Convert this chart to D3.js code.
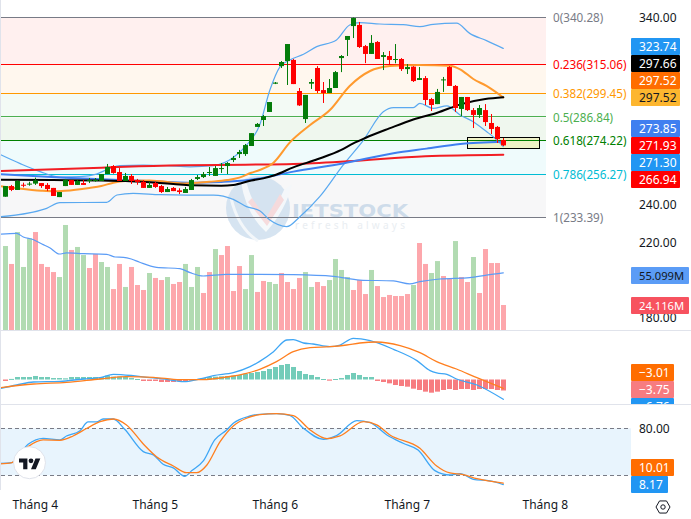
<!DOCTYPE html>
<html lang="vi">
<head>
<meta charset="utf-8">
<title>Biểu đồ giá</title>
<script src="https://cdn.jsdelivr.net/npm/d3@7/dist/d3.min.js"></script>
<style>
  html, body { margin: 0; padding: 0; background: #fff; }
  svg { display: block; }
  text { font-family: "Noto Sans", sans-serif; }
</style>
</head>
<body>
<svg id="chart" width="691" height="519"></svg>
<script>
// Daily candles
const opens = [244.5,250.2,248.1,250.9,251.1,251.5,251.8,250.8,249.2,244.3,250.2,253.4,250.8,251.8,252.9,252.9,252.9,256.6,260.9,257.7,252.9,255.6,253.4,252.5,249.2,251.8,250.2,247.0,249.2,247.9,246.5,248.1,254.0,255.0,257.2,255.6,259.3,260.9,264.1,267.3,267.3,271.6,281.8,285.5,289.8,304.9,314.3,317.0,317.6,301.0,286.0,304.9,313.3,301.5,299.9,302.6,318.6,328.3,335.7,336.3,325.0,320.8,327.2,319.2,319.7,317.7,318.1,312.7,314.0,306.9,307.9,296.7,294.0,306.7,313.8,303.7,291.4,297.8,290.8,288.2,290.8,283.9,281.8,274.8];
const highs = [250.2,250.8,253.4,252.0,252.5,254.7,251.8,251.8,249.2,247.0,254.0,253.4,253.4,253.4,254.5,254.5,256.6,262.0,261.4,259.8,257.2,256.6,254.0,253.4,252.4,252.5,250.8,249.7,249.7,249.0,249.7,254.0,256.1,257.7,260.4,260.9,262.5,263.0,266.3,269.5,272.7,278.5,283.9,288.2,295.1,305.8,317.0,326.1,318.1,302.6,298.9,307.4,314.3,305.8,307.4,311.7,320.2,330.4,340.28,337.9,325.6,330.9,327.7,321.8,322.4,326.1,318.6,315.4,314.3,313.8,309.0,297.3,302.1,308.5,314.3,304.2,297.8,297.8,291.9,293.5,294.0,288.7,282.3,275.9];
const lows = [244.5,247.5,248.1,249.5,250.4,250.8,249.2,247.5,244.9,244.3,250.2,250.8,250.8,250.8,251.8,252.5,252.9,256.6,256.8,252.9,252.9,251.3,250.9,249.2,249.2,249.2,246.5,247.0,247.5,245.9,246.5,248.1,253.4,254.5,255.6,255.6,257.2,256.6,263.0,265.2,266.3,271.6,281.8,282.3,289.8,304.7,313.3,304.2,304.7,293.0,283.9,302.1,299.9,294.6,299.9,302.6,311.1,319.7,329.3,324.0,315.9,320.8,318.1,312.2,314.9,315.8,311.7,310.1,305.8,306.9,293.5,290.3,294.0,300.5,303.7,289.8,287.6,290.3,281.2,286.6,282.3,278.0,273.2,271.6];
const closes = [250.2,248.1,252.9,250.6,251.5,253.2,250.2,248.6,244.9,247.0,253.4,250.8,252.9,250.8,253.4,253.4,256.6,260.4,257.2,252.9,255.6,252.9,252.4,249.2,250.8,249.7,247.0,248.6,247.5,247.0,248.6,253.4,255.0,256.6,257.7,259.8,259.8,262.5,265.2,268.4,272.1,278.5,283.4,287.6,295.1,305.5,316.5,326.1,304.7,293.3,298.9,305.8,301.0,299.9,302.6,311.1,319.7,330.4,340.0,324.5,320.8,326.7,318.1,320.2,317.6,318.1,312.7,313.8,306.3,307.9,296.2,293.5,300.5,307.2,303.7,291.9,297.8,290.8,288.2,291.9,284.4,280.7,275.3,271.93];

// Moving averages and Bollinger bands, read at the listed bar positions
const blackBars = [-0.9,8,16,20,24,28,31,36,38,41,43,45,48,52,56,58,60,64,68,72,76,80,83];
const blackVals = [253.6,253.4,253.2,252.9,252.2,251.3,250.6,250.4,250.8,253.2,254.3,256.1,260.2,264.5,269.5,273.0,275.9,281.0,285.8,289.4,294.0,296.7,297.66];
const basisBars = [-0.9,2,6,8,10,14,16,18,20,24,30,34,37,39,41,42.4,44.7,47.4,50.8,54.1,57.4,60.8,64.1,66.3,69,74.1,75.8,78,80.2,83];
const basisVals = [250.2,249.0,247.7,247.4,247.7,249.2,250.2,252.0,252.9,253.2,251.6,252.5,253.4,254.7,257.3,258.8,262.7,273.4,282.8,290.8,303.7,311.7,314.3,314.7,314.9,314.5,312.6,307.4,303.7,297.52];
const redBars = [-0.9,16,20,30,40,48,57,70,83];
const redVals = [258.2,260.0,260.5,261.3,261.6,262.0,263.4,266.1,266.94];
const blueBars = [-0.9,10,16,22,27,31,36,38,42,48,56.3,64.7,70.2,75.8,83];
const blueVals = [256.5,254.7,253.8,253.1,252.4,252.0,252.4,252.7,254.1,257.9,262.3,267.7,270.2,272.7,273.85];
const upperBars = [-0.9,2.4,5.8,9.1,12.4,15.2,17.4,19.1,23,26.9,30.8,34.7,38,40.2,42.4,44.1,45.8,47.4,49.7,51.9,55.2,57.4,59.1,62.4,66.3,69.1,71.3,75.2,77.4,80.2,83];
const upperVals = [267.1,262.3,257.9,255.0,255.2,256.6,259.6,261.1,261.4,261.1,260.5,261.1,265.4,272.1,282.8,301.5,314.0,317.6,320.6,324.7,328.3,336.3,337.5,336.8,336.5,335.4,336.6,337.3,331.8,327.9,323.74];
const lowerBars = [-0.9,6.9,9.1,16.9,18.6,21.3,25.8,30.2,34.7,38,40.2,42.4,44.1,46.9,49.1,52.4,56.3,59.7,63,64.7,68,69.1,71.3,73.6,75.8,78,80.2,81.3,83];
const lowerVals = [233.8,238.3,241.3,241.5,245.4,246.3,245.6,245.4,245.4,243.1,239.2,237.0,232.0,228.5,233.8,244.5,261.4,274.8,289.9,292.1,292.1,294.4,291.7,293.0,288.2,284.6,279.3,276.6,271.30];

// Fibonacci retracement
const fibRatios = ["0","0.236","0.382","0.5","0.618","0.786","1"];
const fibPrices = [340.28,315.06,299.45,286.84,274.22,256.27,233.39];
const fibColors = ["#787b86","#ff0000","#ff9800","#4caf50","#008000","#00bcd4","#787b86"];
const fibFills = ["#fff0ef","#fff7ee","#f3faf5","#eff7ee","#effbfc","#f7f7f8"];

// Volume, millions of shares
const volumes = [81.0,63.7,94.5,60.8,88.4,94.5,63.7,60.8,55.9,51.1,101.3,77.2,80.1,72.3,59.8,73.3,65.6,60.8,39.5,63.7,41.5,60.8,43.4,38.6,55.0,50.2,48.2,51.1,44.4,46.3,63.7,41.5,60.8,35.7,55.9,78.1,72.3,81.0,37.6,61.7,39.5,72.3,36.7,47.3,46.3,44.4,55.0,46.3,39.5,50.2,55.9,41.5,46.3,42.4,48.2,68.5,57.9,51.1,38.6,48.2,34.7,57.9,42.4,31.8,33.8,32.8,32.8,34.7,43.4,83.9,63.7,55.0,66.5,52.1,49.2,85.8,51.1,46.3,70.4,35.7,78.1,64.6,64.6,24.116];
const volumeSides = "GRGGGRRRRGGRGGRRGGRRGRRRGRRGRRGGGRRGRRRRGGRRGGRRRRGGRRGGGGRRRGRRRRRRGRRGGRRGRRGRRR";
const volAvgBars = [-0.9,1.9,3,4.7,6.1,7.4,9,10.2,13,16.9,18.3,19.7,21,22.4,25.2,29.1,30.8,33,36.9,42.4,48,54.7,59.1,64.7,67.4,69.1,72.4,77.4,80.2,83];
const volAvgVals = [92.3,93.2,89.7,87.1,82.9,79.4,73.3,74.3,73.7,73.0,70.4,70.1,68.5,65.3,60.4,59.2,55.3,52.1,53.7,53.7,53.4,51.8,48.2,47.3,44.4,46.6,49.2,50.5,53.0,55.099];

// MACD
const macdHist = [-0.5,0.2,0.85,0.85,0.85,1.2,0.85,0.85,0.5,0.5,0.4,0.85,0.85,0.85,0.85,0.85,0.85,1.3,0.97,0.97,0.85,0.5,0.17,-0.5,-0.5,-0.5,-0.85,-0.85,-0.85,-0.63,-0.63,-0.4,0.17,0.5,0.85,0.97,1.08,1.2,1.3,1.54,1.88,2.22,2.56,2.9,3.58,4.27,4.95,5.29,4.27,2.9,1.88,1.54,0.85,0.17,-0.4,0.17,0.5,1.54,2.22,1.54,0.85,0.85,-0.5,-0.85,-1.31,-1.88,-2.22,-2.45,-3.13,-3.58,-4.15,-4.5,-4.15,-3.58,-3.24,-3.58,-3.24,-3.24,-3.58,-3.24,-3.24,-3.24,-3.58,-3.75];
const macdBars = [-0.9,1.9,4.7,9.1,13,15.8,18,21.3,24.1,26.9,29.7,32.4,34.7,38,40.8,42.4,44.7,46.9,48,49.7,51.3,54.1,55.8,58,60.8,64.7,68.6,70.8,71.9,73.6,75.2,78.6,83];
const macdVals = [-3.13,-1.88,-0.85,-0.63,0.17,0.63,1.76,1.31,0.63,0.06,-0.74,0.17,1.31,2.33,4.38,6.2,9.5,13.48,13.6,12.46,12.12,11.2,11.77,14.05,13.25,10.3,6.43,3.01,2.22,1.76,0.17,-1.88,-6.76];
const signalBars = [-0.9,4.7,10.2,15.8,20.2,24.7,29.1,32.4,38,40.2,42.4,45.2,48,50.8,54.1,56.9,59.1,61.9,65.8,69.1,71.9,75.2,78.6,83];
const signalVals = [-2.79,-1.54,-0.97,0.17,0.97,0.74,-0.06,-0.06,1.19,2.1,3.47,6.09,9.5,10.86,11.2,11.77,12.46,12.8,11.55,9.16,6.09,3.58,0.63,-3.01];

// Stochastic RSI
const stochKBars = [-0.9,1.1,3.8,6.3,9.1,10.2,12.4,13.8,15.2,16.3,18,19.9,23,24.7,26.3,28,29.9,31.1,33,34.9,36.9,38,40.8,42.4,45.2,47.4,49.7,53,55.2,58.6,60.8,63.6,66.3,68.8,71.6,74.1,75.8,78,80.8,83];
const stochKVals = [35.3,36.2,59.6,67.2,65.1,70.2,76.6,88.1,88.1,91.9,91.9,78.7,50.2,46.0,34.0,29.4,18.7,26.0,38.3,65.1,77.9,86.4,95.7,97.9,98.7,96.6,80.0,66.0,70.6,89.8,87.2,71.5,60.9,52.3,26.0,20.4,22.1,14.9,12.8,8.17];
const stochDBars = [-0.9,1.1,3.8,6.3,9.1,11.3,13.6,15.8,18,20.2,23,25.2,28,30.2,31.9,33.6,35.8,38,40.2,42.4,45.2,48,50.8,53.6,55.8,59.7,61.9,64.1,69.1,71.9,74.1,76.3,78.6,83];
const stochDVals = [34.5,36.2,56.6,65.1,64.7,70.2,80.0,88.5,91.9,84.3,60.0,43.8,31.9,23.4,23.4,33.2,63.0,83.0,92.8,97.4,98.7,96.2,77.9,66.8,70.2,88.5,84.3,71.5,54.5,31.9,23.0,20.9,15.7,10.01];

// Axis labels
const priceTicks = [180,220,240,340];
const stochTicks = [80];
const monthLabels = ["Tháng 4","Tháng 5","Tháng 6","Tháng 7","Tháng 8"];
const monthBars = [5,25,45,67,90];

// Last-value tags on the right scale
const priceTags = ["323.74","297.66","297.52","297.52","273.85","271.93","271.30","266.94"];
const priceTagFills = ["#2196f3","#000000","#ff6d00","#fdb62f","#3f7ff0","#ff0000","#2196f3","#ff0000"];
const priceTagInks = ["#fff","#fff","#fff","#131722","#fff","#fff","#fff","#fff"];
const volumeTags = ["55.099M","24.116M"];
const macdTags = ["−3.01","−3.75","−6.76"];
const stochTags = ["10.01","8.17"];

const svg = d3.select("#chart");
const width = 691, chartRight = 631, fibRight = 546;

const x = d3.scaleLinear().domain([0, 83]).range([5.3, 503.3]);
const yPrice = d3.scaleLinear().domain([340.28, 233.39]).range([17.5, 217.5]);
const yVol = d3.scaleLinear().domain([0, 96.46]).range([330, 230]);
const yMacd = d3.scaleLinear().domain([0, 10]).range([379.5, 350.2]);
const yStoch = d3.scaleLinear().domain([80, 20]).range([428.3, 475.3]);
const bodyW = 5;
const barLeft = i => Math.round(x(i)) - 2;
const barMid = i => Math.round(x(i)) + 0.5;

const defs = svg.append("defs");
defs.append("clipPath").attr("id", "pricePane").append("rect").attr("x", 1).attr("y", 0).attr("width", chartRight).attr("height", 330);
defs.append("clipPath").attr("id", "macdPane").append("rect").attr("x", 1).attr("y", 331).attr("width", width).attr("height", 73);
defs.append("clipPath").attr("id", "tagPane").append("rect").attr("x", 0).attr("y", 331).attr("width", width).attr("height", 73);

const seriesLine = (scale, curve = d3.curveMonotoneX) => d3.line()
  .x(d => x(d[0])).y(d => scale(d[1])).curve(curve);
const pairs = (bars, vals) => bars.map((b, i) => [b, vals[i]]);

function drawLine(g, bars, vals, scale, color, w) {
  g.append("path").datum(pairs(bars, vals)).attr("d", seriesLine(scale))
    .attr("fill", "none").attr("stroke", color).attr("stroke-width", w)
    .attr("stroke-linejoin", "round").attr("stroke-linecap", "round");
}

// --- price pane ---
const price = svg.append("g").attr("clip-path", "url(#pricePane)");

fibFills.forEach((fill, i) => {
  price.append("rect")
    .attr("x", 1).attr("width", fibRight - 1)
    .attr("y", yPrice(fibPrices[i])).attr("height", yPrice(fibPrices[i + 1]) - yPrice(fibPrices[i]))
    .attr("fill", fill);
});

// Vietstock watermark
const mark = price.append("g").attr("opacity", 0.85);
mark.append("circle").attr("cx", 258).attr("cy", 208).attr("r", 32).attr("fill", "#d0e0ef");
mark.append("path").attr("d", "M231 198 Q238 228 258 241").attr("fill", "none").attr("stroke", "#f2f6fa").attr("stroke-width", 3);
mark.append("path").attr("d", "M241 182 Q246 214 266 232 Q286 210 292 184 L284 190 Q276 208 266 220 Q252 204 247 184 Z").attr("fill", "#f4f8fb");
mark.append("path").attr("d", "M252 198 L266 218 L280 194 L284 200 L267 226 L248 202 Z").attr("fill", "#f5d6d8");
mark.append("text").attr("x", 292).attr("y", 217).attr("font-size", 17).attr("font-weight", 700)
  .attr("textLength", 116).attr("lengthAdjust", "spacingAndGlyphs")
  .attr("fill", "#c7d8e8").style("font-family", "'DejaVu Sans', sans-serif").text("IETSTOCK");
mark.append("text").attr("x", 295).attr("y", 229).attr("font-size", 10)
  .attr("textLength", 110).attr("fill", "#e6ebf0").text("refresh always");

fibPrices.forEach((p, i) => {
  price.append("line").attr("x1", 1).attr("x2", fibRight)
    .attr("y1", Math.round(yPrice(p)) - 0.5).attr("y2", Math.round(yPrice(p)) - 0.5)
    .attr("stroke", fibColors[i]).attr("stroke-width", 1);
});

// Band fill between the upper and lower envelopes
const bandOutline = pairs(upperBars, upperVals).concat(pairs(lowerBars, lowerVals).reverse());
price.append("path").datum(bandOutline).attr("d", seriesLine(yPrice, d3.curveLinear) + "Z")
  .attr("fill", "#2196f3").attr("fill-opacity", 0.05);

// Highlight box around the latest close
const boxTop = 276.25, boxBottom = 270.37;
price.append("rect").attr("x", 467.5).attr("width", 72)
  .attr("y", Math.round(yPrice(boxTop)) + 0.5).attr("height", Math.round(yPrice(boxBottom) - yPrice(boxTop)))
  .attr("fill", "#eef2c6").attr("stroke", "#000").attr("stroke-width", 1);
price.append("line").attr("x1", 468).attr("x2", 539)
  .attr("y1", Math.round(yPrice(274.22)) - 0.5).attr("y2", Math.round(yPrice(274.22)) - 0.5)
  .attr("stroke", "#008000");

drawLine(price, upperBars, upperVals, yPrice, "#5aa9f0", 1.2);
drawLine(price, lowerBars, lowerVals, yPrice, "#5aa9f0", 1.2);
drawLine(price, redBars, redVals, yPrice, "#f21d23", 2);
drawLine(price, blueBars, blueVals, yPrice, "#3f7ff0", 2);
drawLine(price, basisBars, basisVals, yPrice, "#ff9a2e", 2);
drawLine(price, blackBars, blackVals, yPrice, "#000000", 2);

// Candles
const candles = price.append("g").selectAll("g").data(opens.map((o, i) => i)).join("g")
  .attr("fill", i => closes[i] >= opens[i] ? "#047c0a" : "#ff0000")
  .attr("stroke", i => closes[i] >= opens[i] ? "#047c0a" : "#ff0000");
candles.append("line").attr("stroke-width", 1)
  .attr("x1", barMid).attr("x2", barMid)
  .attr("y1", i => yPrice(highs[i])).attr("y2", i => yPrice(lows[i]));
candles.append("rect").attr("stroke", "none")
  .attr("x", barLeft).attr("width", bodyW)
  .attr("y", i => yPrice(Math.max(opens[i], closes[i])))
  .attr("height", i => Math.max(1, Math.abs(yPrice(opens[i]) - yPrice(closes[i]))));

// Volume
price.append("g").selectAll("rect").data(volumes).join("rect")
  .attr("x", (d, i) => barLeft(i)).attr("width", bodyW)
  .attr("y", d => yVol(d)).attr("height", d => yVol(0) - yVol(d))
  .attr("fill", (d, i) => volumeSides[i] === "G" ? "#b2dbb2" : "#fda7ac");
drawLine(price, volAvgBars, volAvgVals, yVol, "#5b9cf6", 1.2);

// --- MACD pane ---
const macd = svg.append("g").attr("clip-path", "url(#macdPane)");
macd.append("g").selectAll("rect").data(macdHist).join("rect")
  .attr("x", (d, i) => barLeft(i)).attr("width", bodyW)
  .attr("y", d => Math.min(yMacd(d), yMacd(0)))
  .attr("height", d => Math.max(1, Math.abs(yMacd(d) - yMacd(0))))
  .attr("fill", d => d >= 0 ? "#73ccb9" : "#f77c80");
drawLine(macd, macdBars, macdVals, yMacd, "#3ea6f5", 1.3);
drawLine(macd, signalBars, signalVals, yMacd, "#ff7f1f", 1.3);

// --- Stochastic RSI pane ---
const stoch = svg.append("g");
stoch.append("rect").attr("x", 1).attr("width", chartRight - 1)
  .attr("y", yStoch(80)).attr("height", yStoch(20) - yStoch(80)).attr("fill", "#e8f4fd");
[80, 20].forEach(level => {
  stoch.append("line").attr("x1", 1).attr("x2", chartRight)
    .attr("y1", Math.round(yStoch(level)) + 0.5).attr("y2", Math.round(yStoch(level)) + 0.5)
    .attr("stroke", "#787b86").attr("stroke-dasharray", "4 3");
});
drawLine(stoch, stochKBars, stochKVals, yStoch, "#3ea6f5", 1.3);
drawLine(stoch, stochDBars, stochDVals, yStoch, "#ff7f1f", 1.3);

// Pane separators and the left border
[330, 404].forEach(y => {
  svg.append("line").attr("x1", 0).attr("x2", width).attr("y1", y + 0.5).attr("y2", y + 0.5).attr("stroke", "#e0e3eb");
});
svg.append("line").attr("x1", 0.5).attr("x2", 0.5).attr("y1", 0).attr("y2", 490).attr("stroke", "#e0e3eb");

// Fibonacci labels
fibPrices.forEach((p, i) => {
  svg.append("text").attr("x", 553).attr("y", yPrice(p)).attr("dy", "0.35em")
    .attr("font-size", 11.7).attr("fill", fibColors[i])
    .text(`${fibRatios[i]}(${p.toFixed(2)})`);
});

// Right scale
const axisFont = 12;
const priceAxis = svg.append("g").attr("transform", "translate(639,0)")
  .call(d3.axisRight(yPrice).tickValues(priceTicks).tickSize(0).tickPadding(0).tickFormat(d3.format(".2f")));
priceAxis.select(".domain").remove();
priceAxis.selectAll("text").attr("font-size", axisFont).attr("fill", "#131722").style("font-family", null);

const stochAxis = svg.append("g").attr("transform", "translate(639,0)")
  .call(d3.axisRight(yStoch).tickValues(stochTicks).tickSize(0).tickPadding(0).tickFormat(d3.format(".2f")));
stochAxis.select(".domain").remove();
stochAxis.selectAll("text").attr("font-size", axisFont).attr("fill", "#131722").style("font-family", null);

function tag(g, label, top, w, fill, ink, size = axisFont) {
  g.append("rect").attr("x", chartRight).attr("y", top).attr("width", w).attr("height", 17).attr("rx", 1).attr("fill", fill);
  g.append("text").attr("x", 639).attr("y", top + 8.5).attr("dy", "0.36em")
    .attr("font-size", size).attr("fill", ink).text(label);
}
const tagTops = [38, 55, 72, 89, 120, 137, 154, 171];
priceTags.forEach((t, i) => tag(svg, t, tagTops[i], 49, priceTagFills[i], priceTagInks[i]));
tag(svg, volumeTags[0], 267, 58, "#5b9cf6", "#131722", 11.2);
tag(svg, volumeTags[1], 297, 58, "#f7525f", "#fff", 11.2);

const macdTagGroup = svg.append("g").attr("clip-path", "url(#tagPane)");
tag(macdTagGroup, macdTags[0], 364, 43, "#ff6d00", "#fff");
tag(macdTagGroup, macdTags[1], 381, 43, "#f77c80", "#fff");
tag(macdTagGroup, macdTags[2], 398, 43, "#2196f3", "#fff");

tag(svg, stochTags[0], 459, 43, "#ff6d00", "#fff");
tag(svg, stochTags[1], 476, 37, "#2196f3", "#fff");

// Month labels
svg.append("g").selectAll("text").data(monthLabels).join("text")
  .attr("x", (d, i) => x(monthBars[i])).attr("y", 505).attr("dy", "0.36em")
  .attr("text-anchor", "middle").attr("font-size", axisFont).attr("fill", "#131722")
  .text(d => d);

// Logo badge
const badge = svg.append("g");
badge.append("circle").attr("cx", 29.5).attr("cy", 462.7).attr("r", 16).attr("fill", "#fff").attr("stroke", "#e0e3eb").attr("stroke-width", 1);
const glyph = badge.append("g").attr("transform", "translate(19,456) scale(0.6)").attr("fill", "#131722");
glyph.append("path").attr("d", "M14 22H7V11H0V4h14v18zM28 22h-8l7.5-18h8L28 22z");
glyph.append("circle").attr("cx", 20).attr("cy", 8).attr("r", 4);

// Scale settings icon
const gear = svg.append("g").attr("transform", "translate(663,507)").attr("fill", "none").attr("stroke", "#131722");
gear.append("path").attr("d", d3.line()(d3.range(6).map(k => [7 * Math.cos(k * Math.PI / 3), 7 * Math.sin(k * Math.PI / 3)])) + "Z").attr("stroke-linejoin", "round");
gear.append("circle").attr("r", 2.2);
</script>
</body>
</html>
